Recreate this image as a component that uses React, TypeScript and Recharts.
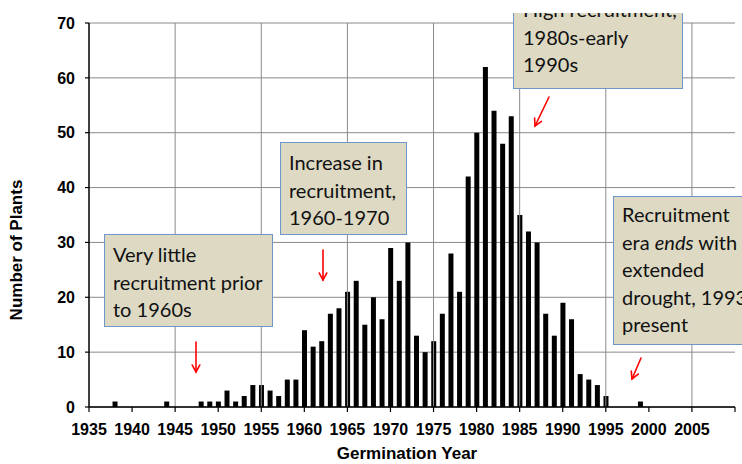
import { BarChart, Bar, XAxis, YAxis, CartesianGrid, ReferenceLine } from 'recharts'

// germination year -> number of plants (only years with plants)
const YEARS = [
    1938, 1944, 1948, 1949, 1950, 1951, 1952, 1953, 1954, 1955, 1956, 1957, 1958, 1959,
    1960, 1961, 1962, 1963, 1964, 1965, 1966, 1967, 1968, 1969,
    1970, 1971, 1972, 1973, 1974, 1975, 1976, 1977, 1978, 1979,
    1980, 1981, 1982, 1983, 1984, 1985, 1986, 1987, 1988, 1989,
    1990, 1991, 1992, 1993, 1994, 1995, 1999,
]
const PLANTS = [
    1, 1, 1, 1, 1, 3, 1, 2, 4, 4, 3, 2, 5, 5,
    14, 11, 12, 17, 18, 21, 23, 15, 20, 16,
    29, 23, 30, 13, 10, 12, 17, 28, 21, 42,
    50, 62, 54, 48, 53, 35, 32, 30, 17, 13,
    19, 16, 6, 5, 4, 2, 1,
]

const X_TICKS = [1935, 1940, 1945, 1950, 1955, 1960, 1965, 1970, 1975, 1980, 1985, 1990, 1995, 2000, 2005, 2010]
const X_GRID = [1945, 1955, 1965, 1975, 1985, 1995, 2005]
const Y_TICKS = [0, 10, 20, 30, 40, 50, 60, 70]

const data = YEARS.map((year, i) => ({ year, plants: PLANTS[i] }))

const GRID = '#8a8a8a'
const AXIS_FONT = { fill: '#000', fontSize: 16, fontWeight: 700, fontFamily: '"Liberation Sans", Arial, sans-serif' }

const boxStyle: React.CSSProperties = {
    position: 'absolute',
    boxSizing: 'border-box',
    background: '#ddd9c3',
    border: '1.5px solid #6f96c8',
    fontFamily: 'Lato, "Open Sans", sans-serif',
    fontSize: 20,
    lineHeight: '27.5px',
    color: '#111',
    whiteSpace: 'nowrap',
}

function Arrow({ x1, y1, x2, y2 }: { x1: number; y1: number; x2: number; y2: number }) {
    const a = Math.atan2(y2 - y1, x2 - x1)
    const h = 8
    const s = 0.5
    const p1 = [x2 - h * Math.cos(a - s), y2 - h * Math.sin(a - s)]
    const p2 = [x2 - h * Math.cos(a + s), y2 - h * Math.sin(a + s)]
    return (
        <g stroke="#ff0000" strokeWidth={1.6} fill="none" strokeLinecap="round">
            <line x1={x1} y1={y1} x2={x2} y2={y2} />
            <polyline points={`${p1[0]},${p1[1]} ${x2},${y2} ${p2[0]},${p2[1]}`} />
        </g>
    )
}

export default function App() {
    return (
        <div style={{ position: 'fixed', left: 0, top: 0, width: 742, height: 464, overflow: 'hidden', background: '#fff' }}>
            <BarChart width={742} height={464} data={data} margin={{ top: 23, right: 7, bottom: 0, left: 0 }}>
                <CartesianGrid vertical={false} stroke={GRID} strokeWidth={1} />
                {X_GRID.map((y) => (
                    <ReferenceLine key={y} x={y} stroke={GRID} strokeWidth={1} />
                ))}
                <XAxis
                    dataKey="year"
                    type="number"
                    domain={[1935, 2010]}
                    ticks={X_TICKS}
                    interval={0}
                    allowDataOverflow
                    tickFormatter={(v: number) => (v === 2010 ? '' : String(v))}
                    height={57}
                    axisLine={{ stroke: '#000', strokeWidth: 1.5 }}
                    tickLine={{ stroke: '#000', strokeWidth: 1.2 }}
                    tickSize={5}
                    tickMargin={12}
                    tick={AXIS_FONT}
                />
                <YAxis
                    domain={[0, 70]}
                    ticks={Y_TICKS}
                    interval={0}
                    width={89}
                    axisLine={{ stroke: '#000', strokeWidth: 1.5 }}
                    tickLine={{ stroke: '#000', strokeWidth: 1.2 }}
                    tickSize={4}
                    tickMargin={10}
                    tick={AXIS_FONT}
                />
                <Bar dataKey="plants" fill="#000" barSize={5} isAnimationActive={false} />
            </BarChart>

            <svg width={742} height={464} style={{ position: 'absolute', left: 0, top: 0, pointerEvents: 'none' }}>
                <text
                    x={407}
                    y={453}
                    textAnchor="middle"
                    dominantBaseline="central"
                    style={{ ...AXIS_FONT, fontSize: 17 }}
                >
                    Germination Year
                </text>
                <text
                    x={16}
                    y={250}
                    textAnchor="middle"
                    dominantBaseline="central"
                    transform="rotate(-90 16 250)"
                    style={{ ...AXIS_FONT, fontSize: 17 }}
                >
                    Number of Plants
                </text>
                <Arrow x1={196} y1={342} x2={196} y2={372} />
                <Arrow x1={323} y1={250} x2={323} y2={280} />
                <Arrow x1={549} y1={97} x2={535} y2={126} />
                <Arrow x1={641} y1={358} x2={632} y2={379} />
            </svg>

            <div style={{ ...boxStyle, left: 104, top: 234, width: 169, height: 93, padding: '6px 0 0 8px' }}>
                Very little
                <br />
                recruitment prior
                <br />
                to 1960s
            </div>
            <div style={{ ...boxStyle, left: 280, top: 142, width: 127, height: 93, padding: '6px 0 0 8px' }}>
                Increase in
                <br />
                recruitment,
                <br />
                1960-1970
            </div>
            <div style={{ position: 'absolute', left: 0, top: 13, width: 742, height: 100, overflow: 'hidden' }}>
                <div style={{ ...boxStyle, left: 513, top: -19, width: 170, height: 95, padding: '1px 0 0 9px' }}>
                    High recruitment,
                    <br />
                    1980s-early
                    <br />
                    1990s
                </div>
            </div>
            <div style={{ ...boxStyle, left: 613, top: 196, width: 170, height: 149, padding: '4px 0 0 8px' }}>
                Recruitment
                <br />
                era <i>ends</i> with
                <br />
                extended
                <br />
                drought, 1993-
                <br />
                present
            </div>
        </div>
    )
}
